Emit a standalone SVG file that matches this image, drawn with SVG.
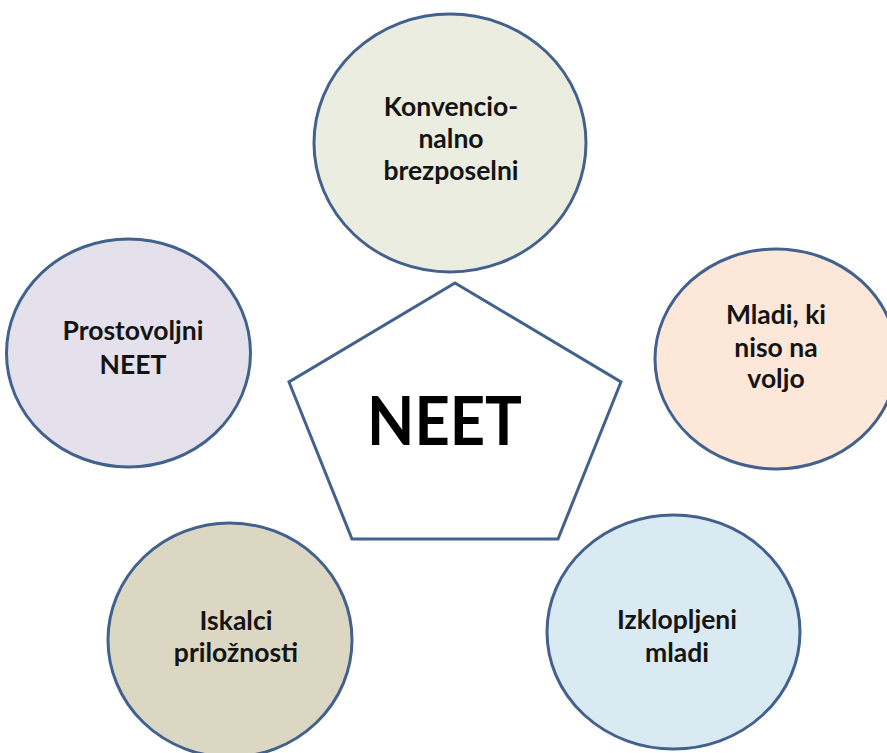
<svg xmlns="http://www.w3.org/2000/svg" width="887" height="753" viewBox="0 0 887 753">
<style>
.node{stroke:#42618c;stroke-width:3}
.lbl{font-family:Lato,"Open Sans","Liberation Sans",sans-serif;font-weight:700;font-size:26.5px;fill:#141414;text-anchor:middle}
.big{font-family:Lato,"Open Sans","Liberation Sans",sans-serif;font-weight:700;font-size:66px;fill:#000;text-anchor:middle}
</style>
<rect width="887" height="753" fill="#ffffff"/>
<g id="connectors"></g>
<g id="konvencionalno">
<ellipse class="node" cx="450" cy="143" rx="136" ry="129" fill="#eaeddf"/>
<text class="lbl" x="451" y="116">Konvencio-</text>
<text class="lbl" x="451" y="148">nalno</text>
<text class="lbl" x="451" y="180">brezposelni</text>
</g>
<g id="prostovoljni">
<ellipse class="node" cx="128.5" cy="353" rx="122" ry="114" fill="#e4e1ed"/>
<text class="lbl" x="133" y="340">Prostovoljni</text>
<text class="lbl" x="133" y="374">NEET</text>
</g>
<g id="mladi">
<ellipse class="node" cx="776" cy="359" rx="121" ry="110" fill="#fde7d8"/>
<text class="lbl" x="776" y="324">Mladi, ki</text>
<text class="lbl" x="776" y="357">niso na</text>
<text class="lbl" x="776" y="388">voljo</text>
</g>
<g id="iskalci">
<ellipse class="node" cx="230" cy="640" rx="122" ry="117" fill="#dbd7c3"/>
<text class="lbl" x="236" y="630">Iskalci</text>
<text class="lbl" x="236" y="662">priložnosti</text>
</g>
<g id="izklopljeni">
<ellipse class="node" cx="673.5" cy="632" rx="126.5" ry="117" fill="#d9eaf2"/>
<text class="lbl" x="677" y="629">Izklopljeni</text>
<text class="lbl" x="677" y="662">mladi</text>
</g>
<g id="neet">
<polygon class="node" points="455,283 621,382 558,539 352,539 289,382" fill="#ffffff"/>
<text class="big" x="444.5" y="445" textLength="155" lengthAdjust="spacingAndGlyphs">NEET</text>
</g>
</svg>
